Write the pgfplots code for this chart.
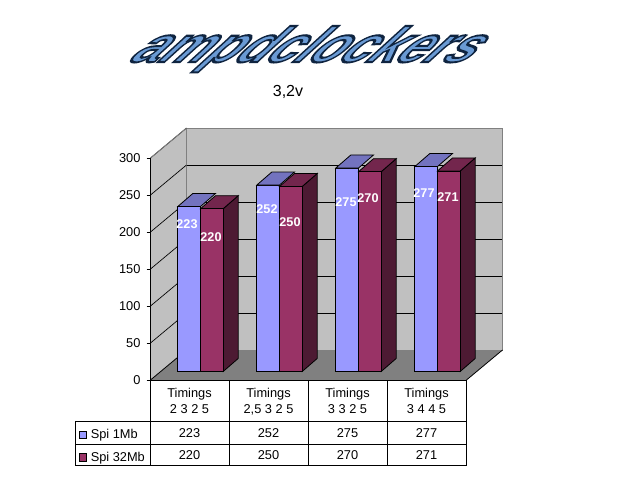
\documentclass[border=0pt]{standalone}
\usepackage{pgfplots}
\usepackage{pgfplotstable}
\usepackage{fontspec}
\pgfplotsset{compat=1.18}
\setmainfont{Liberation Sans}

\definecolor{serA}{HTML}{9999FF}
\definecolor{serAtop}{HTML}{7373BF}
\definecolor{serB}{HTML}{993366}
\definecolor{serBtop}{HTML}{73264D}
\definecolor{serBside}{HTML}{4D1A33}
\definecolor{wall}{HTML}{C0C0C0}
\definecolor{floorc}{HTML}{808080}
\definecolor{logoblue}{HTML}{6A9AD4}

\pgfplotstableread{
pos spiA spiB
0.5 223 220
1.5 252 250
2.5 275 270
3.5 277 271
}\speeds

% bar width and depth in axis units (79 px per category, 0.74 px per unit)
\def\bw{0.287}
\def\dx{0.19}
\def\dy{17.6}

% top face of a bar: left edge, value, colour
\newcommand\topface[3]{%
  \pgfmathsetmacro\xa{#1}\pgfmathsetmacro\xb{#1+\bw}%
  \pgfmathsetmacro\xc{#1+\bw+\dx}\pgfmathsetmacro\xd{#1+\dx}\pgfmathsetmacro\yb{#2+\dy}%
  \addplot[draw=black,fill=#3,line width=0.6pt] coordinates {(\xa,#2) (\xb,#2) (\xc,\yb) (\xd,\yb)} --cycle;}
% right face of a bar: right edge, value, colour
\newcommand\sideface[3]{%
  \pgfmathsetmacro\xc{#1+\dx}\pgfmathsetmacro\yb{#2+\dy}%
  \addplot[draw=black,fill=#3,line width=0.6pt] coordinates {(#1,0) (\xc,\dy) (\xc,\yb) (#1,#2)} --cycle;}

\begin{document}
\begin{tikzpicture}[x=0.75pt,y=-0.75pt,font=\fontsize{9.6pt}{11pt}\selectfont]
\path[use as bounding box,fill=white] (0,0) rectangle (640,480);

% logo
\node[text=logoblue,xslant=1.1,inner sep=0pt,anchor=base] at (296,62)
    {\resizebox{255pt}{27pt}{\special{pdf:code 2 Tr 0.4 w 0.06 0.14 0.25 RG}\bfseries ampdclockers\special{pdf:code 0 Tr}}};

\node[font=\fontsize{12pt}{14pt}\selectfont] at (288,92) {3,2v};

% walls and floor
\fill[wall] (150.5,158) -- (186.5,128) -- (186.5,350) -- (150.5,380) -- cycle;
\fill[floorc] (150.5,380) -- (466.5,380) -- (502.5,350) -- (186.5,350) -- cycle;
\begin{axis}[
  at={(186.5*0.75pt,-350*0.75pt)},anchor=south west,
  scale only axis,width=237pt,height=166.5pt,
  xmin=0,xmax=4,ymin=0,ymax=300,
  xtick=\empty,ytick={50,100,150,200,250},
  ymajorgrids,major grid style={black,line width=0.6pt},
  major tick length=0pt,yticklabels={},
  axis background/.style={fill=wall},
  axis line style={floorc,line width=0.75pt},
]
\end{axis}
\foreach \y in {158,195,232,269,306,343}
  \draw[line width=0.5pt,black] (150.5,\y) -- ++(36,-30);
\draw[line width=0.6pt,floorc] (150.5,158) -- (186.5,128);
\draw[line width=0.6pt,black] (150.5,380) -- (186.5,350);
\draw[line width=0.6pt,black] (466.5,380) -- (502.5,350);

% front plane: value axis and category labels
\begin{axis}[
  at={(150.5*0.75pt,-380*0.75pt)},anchor=south west,
  scale only axis,width=237pt,height=166.5pt,
  xmin=0,xmax=4,ymin=0,ymax=300,
  axis x line=bottom,axis y line=left,
  axis line style={-,black,line width=0.75pt},
  xtick={0,1,2,3,4},xticklabels={},
  major tick length=3pt,
  xtick style={draw=none},
  ytick={0,50,100,150,200,250,300},
  ytick style={black,line width=0.6pt},
  tick align=outside,
  yticklabel style={xshift=-1pt},
  /pgf/number format/assume math mode=true,
]
\end{axis}

% bars
\begin{axis}[
  at={(161*0.75pt,-371.5*0.75pt)},anchor=south west,
  scale only axis,width=237pt,height=166.5pt,
  xmin=0,xmax=4,ymin=0,ymax=300,
  hide axis,clip=false,
]
\addplot[ybar,bar width=17pt,bar shift=-8.5pt,draw=black,fill=serA,line width=0.6pt] table[x=pos,y=spiA] {\speeds};
\topface{0.213}{223}{serAtop}
\topface{1.213}{252}{serAtop}
\topface{2.213}{275}{serAtop}
\topface{3.213}{277}{serAtop}
\sideface{0.787}{220}{serBside}
\sideface{1.787}{250}{serBside}
\sideface{2.787}{270}{serBside}
\sideface{3.787}{271}{serBside}
\topface{0.5}{220}{serBtop}
\topface{1.5}{250}{serBtop}
\topface{2.5}{270}{serBtop}
\topface{3.5}{271}{serBtop}
\addplot[ybar,bar width=17pt,bar shift=8.5pt,draw=black,fill=serB,line width=0.6pt] table[x=pos,y=spiB] {\speeds};
\end{axis}

% value labels on the bars
\foreach \x/\y/\t in {187/224/223,211/237/220,267/209/252,290/222/250,346/202/275,368/198/270,424/193/277,448/197/271}
  \node[text=white,font=\fontsize{9.5pt}{11pt}\selectfont\bfseries,inner sep=0pt] at (\x,\y) {\t};

% data table below the chart
\draw[line width=0.75pt] (150.5,380.5) -- (466.5,380.5) -- (466.5,465.5) -- (75.5,465.5) -- (75.5,421) -- (466.5,421);
\draw[line width=0.75pt] (75.5,444.3) -- (466.5,444.3);
\foreach \x in {150.5,229.5,308.3,387.5}
  \draw[line width=0.75pt] (\x,380.5) -- (\x,465.5);
\foreach \x/\a/\b/\c in {189.5/2 3 2 5/223/220,268.5/{2,5 3 2 5}/252/250,347.5/3 3 2 5/275/270,426.5/3 4 4 5/277/271}{
  \node[anchor=base,inner sep=0pt] at (\x,397) {Timings};
  \node[anchor=base,inner sep=0pt] at (\x,413.5) {\a};
  \node[anchor=base,inner sep=0pt] at (\x,437.5) {\b};
  \node[anchor=base,inner sep=0pt] at (\x,459.5) {\c};
}
\draw[fill=serA,line width=0.5pt] (79.5,431) rectangle (86.5,438.5);
\draw[fill=serB,line width=0.5pt] (79.5,453.5) rectangle (86.5,461);
\node[anchor=base west,inner sep=0pt] at (90.5,438.5) {Spi 1Mb};
\node[anchor=base west,inner sep=0pt] at (90.5,461) {Spi 32Mb};
\end{tikzpicture}
\end{document}
